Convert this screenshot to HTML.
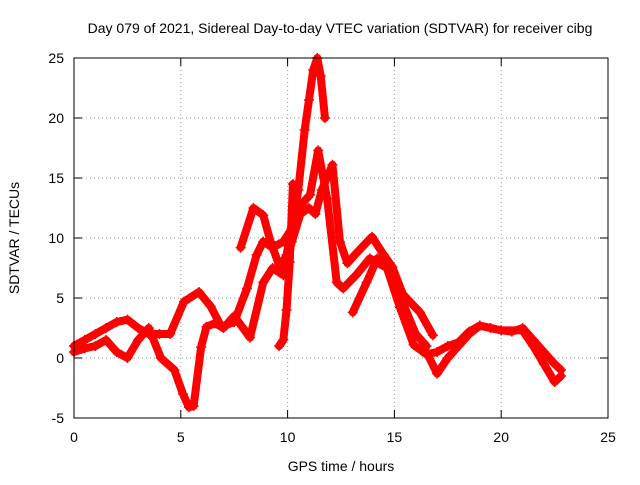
<!DOCTYPE html>
<html><head><meta charset="utf-8"><style>
body{margin:0;background:#fff}
svg text{font-family:"Liberation Sans",sans-serif;font-size:14px;fill:#000}
</style></head><body>
<svg id="chart" width="640" height="480">
<text x="340" y="33" text-anchor="middle">Day 079 of 2021, Sidereal Day-to-day VTEC variation (SDTVAR) for receiver cibg</text>
<text x="341" y="471" text-anchor="middle">GPS time / hours</text>
<text transform="translate(19,238) rotate(-90)" text-anchor="middle">SDTVAR / TECUs</text>
<g id="grid"></g><g id="marks"></g>
<rect x="74" y="58" width="534" height="360" fill="none" stroke="#000"/>
</svg>
<script>
const xTicks=[0,5,10,15,20,25];
const yTicks=[-5,0,5,10,15,20,25];
const seriesA=[[0,1],[0.5,1.5],[1,2],[1.5,2.5],[2,3],[2.5,3.2],[3,2.5],[3.5,2],[4,2],[4.5,2],[5.15,4.7],[5.85,5.5],[6.4,4.3],[6.9,2.6],[7.5,3],[8.1,5.8],[8.55,8.6],[8.86,9.7],[9.3,9.2],[9.8,9.7],[10.1,10.5],[10.5,12.5],[11.05,13.6],[11.43,17.3],[11.85,13.3],[12.3,6.3],[12.6,5.8],[13.2,6.9],[13.85,8.3],[14.65,7.5],[15.26,4.2],[15.9,1.1],[16.5,0.3],[17,0.5],[17.5,1],[18,1.3],[18.5,2.2],[19,2.7],[20,2.3],[21,2.3],[21.5,1],[22,-0.5],[22.5,-2],[22.8,-1.5]];
const seriesB=[[0,0.5],[0.5,0.8],[1,1],[1.5,1.5],[2,0.5],[2.5,0],[3,1.5],[3.5,2.5],[4.07,0],[4.7,-1],[5.1,-3],[5.38,-4.1],[5.6,-4],[5.95,0.9],[6.2,2.6],[6.6,2.9],[7,2.5],[7.5,3.5],[8.24,1.7],[8.86,6.3],[9.3,7.5],[9.8,6.9],[10.2,9.7],[10.6,12],[11,12.5],[11.3,12],[11.6,14],[12.1,16.1],[12.45,9.7],[12.8,7.9],[13.15,8.6],[13.95,10.1],[14.5,8.6],[14.9,7.6],[15.4,5.3],[16.2,3.8],[16.8,1.9]];
const seriesC=[[7.8,9.2],[8.4,12.5],[8.86,11.9],[9.2,9.7],[9.65,7.5],[9.95,8.6],[10.2,10.8],[10.5,14],[10.8,19],[11,21.5],[11.2,24],[11.39,25],[11.55,23.5],[11.75,20]];
const seriesD=[[9.6,1],[9.8,1.5],[9.95,4],[10.1,8],[10.25,14.5]];
const seriesE=[[16.5,0.5],[17,-1.3],[17.5,0],[18,1],[18.5,2],[19,2.7],[19.5,2.5],[20,2.3],[20.5,2.2],[21,2.5],[21.5,1.5],[22,0.5],[22.5,-0.5],[22.8,-1]];
const seriesF=[[13.05,3.8],[13.7,6.3],[14.2,8.3],[14.75,7.7],[15.3,5],[16,2],[16.5,1]];
const allSeries=[seriesA,seriesB,seriesC,seriesD,seriesE,seriesF];
const sx=v=>74+(v-0)/25*534, sy=v=>418-(v+5)/30*360;
const ns="http://www.w3.org/2000/svg";
const grid=document.getElementById('grid'), marks=document.getElementById('marks');
function mk(t,a,p){const e=document.createElementNS(ns,t);for(const k in a)e.setAttribute(k,a[k]);p.appendChild(e);return e;}
xTicks.forEach(t=>{const x=sx(t);
 const g=mk('line',{x1:x,x2:x,y1:58,y2:418,stroke:'#999','stroke-dasharray':'1,3'},grid);
 
 
 mk('line',{x1:x,x2:x,y1:418,y2:410,stroke:'#000'},grid);mk('line',{x1:x,x2:x,y1:58,y2:66,stroke:'#000'},grid);
 const l=mk('text',{x:x,y:442,'text-anchor':'middle'},grid);l.textContent=t;
 
 });
yTicks.forEach(t=>{const y=sy(t);
 const g=mk('line',{x1:74,x2:608,y1:y,y2:y,stroke:'#999','stroke-dasharray':'1,3'},grid);
 
 
 mk('line',{x1:74,x2:82,y1:y,y2:y,stroke:'#000'},grid);mk('line',{x1:600,x2:608,y1:y,y2:y,stroke:'#000'},grid);
 const l=mk('text',{x:64,y:y+5,'text-anchor':'end'},grid);l.textContent=t;
 
 });
allSeries.forEach((s,i)=>{
 const pl=mk('polyline',{points:s.map(p=>sx(p[0])+','+sy(p[1])).join(' '),fill:'none',stroke:'#f00','stroke-width':8,'stroke-linejoin':'round','stroke-linecap':'round'},marks);
 
 
 s.forEach(p=>{const x=sx(p[0]),y=sy(p[1]);
  const m=mk('path',{d:`M${x-5},${y}H${x+5}M${x},${y-5}V${y+5}`,stroke:'#f00','stroke-width':1.5},marks);
  
  });
});
</script>
</body></html>
